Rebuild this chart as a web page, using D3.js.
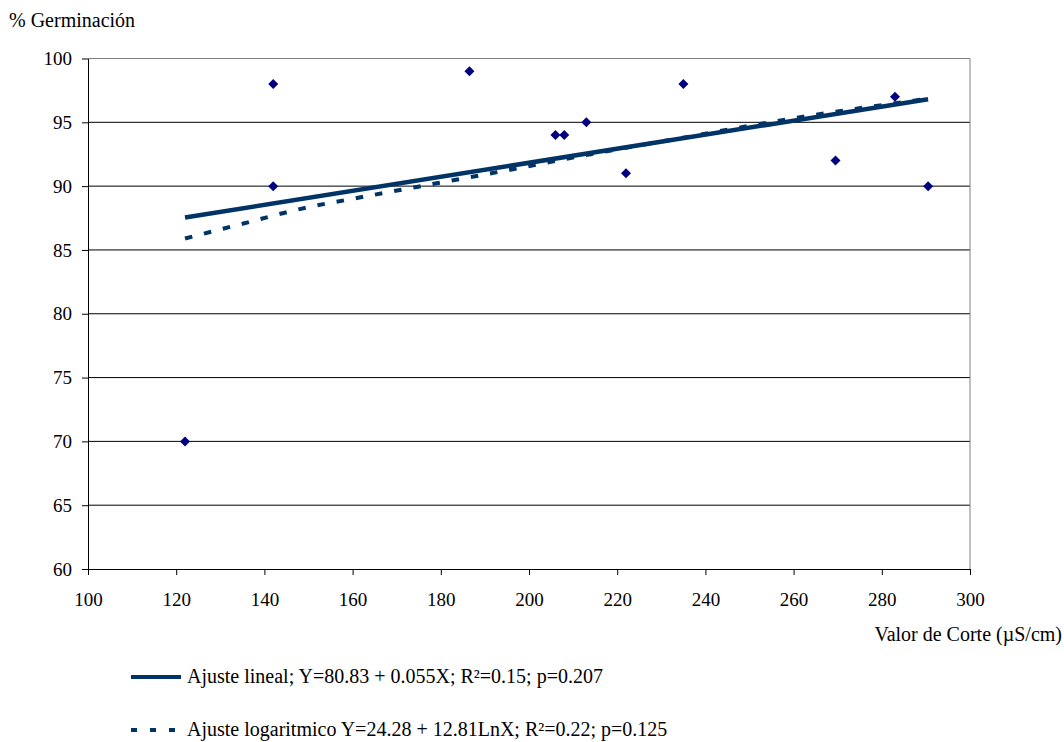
<!DOCTYPE html>
<html>
<head>
<meta charset="utf-8">
<script src="https://cdn.jsdelivr.net/npm/d3@7"></script>
<style>
  body { margin: 0; background: #fff; }
</style>
</head>
<body>
<div id="chart"></div>
<script>
// scatter points
const valorCorte = [122, 142, 142, 186.5, 206, 208, 213, 222, 235, 269.5, 283, 290.5]
const germinacion = [70, 98, 90, 99, 94, 94, 95, 91, 98, 92, 97, 90]

// trend lines, values
const linealX = [122, 290.5]
const linealY = [87.54, 96.81]
const logX = [122, 135, 148, 163, 179, 196, 214, 235, 261.5, 290.5]
const logY = [85.9, 87.05, 88.2, 89.2, 90.22, 91.3, 92.5, 93.8, 95.4, 96.85]

const xTicks = [100, 120, 140, 160, 180, 200, 220, 240, 260, 280, 300]
const yTicks = [60, 65, 70, 75, 80, 85, 90, 95, 100]

const legendLabels = [
    "Ajuste lineal; Y=80.83 + 0.055X; R²=0.15; p=0.207",
    "Ajuste logaritmico Y=24.28 + 12.81LnX; R²=0.22; p=0.125"
]

const W = 1064, H = 742
const plot = {left: 88, right: 970, top: 58.5, bottom: 569}
const lineColor = "#003366"
const serif = "'Liberation Serif', 'Times New Roman', serif"

const svg = d3.select("#chart").append("svg")
    .attr("width", W)
    .attr("height", H)
    .attr("font-family", serif)

let x = d3.scaleLinear().domain([100, 300]).range([plot.left, plot.right])
let y = d3.scaleLinear().domain([60, 100]).range([plot.bottom, plot.top])

// gridlines
svg.append("g")
    .selectAll("line")
    .data(yTicks.filter(d => d > 60 && d < 100))
    .enter()
    .append("line")
    .attr("x1", plot.left).attr("x2", plot.right)
    .attr("y1", d => y(d)).attr("y2", d => y(d))
    .attr("stroke", "#000")
    .attr("stroke-width", 1)

// plot frame (top + right in grey)
svg.append("path")
    .attr("d", `M${plot.left},${y(100)}H${plot.right}V${plot.bottom}`)
    .attr("fill", "none")
    .attr("stroke", "#808080")
    .attr("stroke-width", 1)

// axes
const xAxis = svg.append("g")
    .attr("transform", "translate(0," + plot.bottom + ")")
    .call(d3.axisBottom(x).tickValues(xTicks).tickSizeInner(6).tickSizeOuter(0).tickPadding(18))
const yAxis = svg.append("g")
    .attr("transform", "translate(" + plot.left + ",0)")
    .call(d3.axisLeft(y).tickValues(yTicks).tickSizeInner(6).tickSizeOuter(0).tickPadding(10))

svg.selectAll(".tick text")
    .attr("font-family", serif)
    .attr("font-size", 19)
    .attr("fill", "#000")
xAxis.attr("font-family", serif)
yAxis.attr("font-family", serif)
svg.selectAll(".domain").attr("stroke", "#000")
svg.selectAll(".tick line").attr("stroke", "#000")

// axis titles
svg.append("text")
    .attr("x", 9).attr("y", 27)
    .attr("font-size", 20)
    .text("% Germinación")

svg.append("text")
    .attr("x", 1062).attr("y", 641)
    .attr("text-anchor", "end")
    .attr("font-size", 20)
    .text("Valor de Corte (µS/cm)")

// trend lines
const logData = logX.map((v, i) => ({x: v, y: logY[i]}))
const linData = linealX.map((v, i) => ({x: v, y: linealY[i]}))

svg.append("path")
    .datum(logData)
    .attr("fill", "none")
    .attr("stroke", lineColor)
    .attr("stroke-width", 4)
    .attr("stroke-dasharray", "7.5,12")
    .attr("d", d3.line().curve(d3.curveMonotoneX).x(d => x(d.x)).y(d => y(d.y)))

svg.append("path")
    .datum(linData)
    .attr("fill", "none")
    .attr("stroke", lineColor)
    .attr("stroke-width", 4.5)
    .attr("d", d3.line().x(d => x(d.x)).y(d => y(d.y)))

// points
const pts = valorCorte.map((v, i) => ({x: v, y: germinacion[i]}))
svg.append("g")
    .selectAll("path")
    .data(pts)
    .enter()
    .append("path")
    .attr("transform", d => "translate(" + x(d.x) + "," + y(d.y) + ")")
    .attr("d", "M0,-5L5,0L0,5L-5,0Z")
    .attr("fill", "#000080")

// legend
const legend = svg.append("g")
const rows = [{y: 677, dash: null, x2: 181}, {y: 730, dash: "6,13", x2: 175}]
rows.forEach((r, i) => {
    legend.append("line")
        .attr("x1", 131).attr("x2", r.x2)
        .attr("y1", r.y).attr("y2", r.y)
        .attr("stroke", lineColor)
        .attr("stroke-width", 4)
        .attr("stroke-dasharray", r.dash)
    legend.append("text")
        .attr("x", 187).attr("y", r.y + 6)
        .attr("font-size", 20)
        .text(legendLabels[i])
})
</script>
</body>
</html>
